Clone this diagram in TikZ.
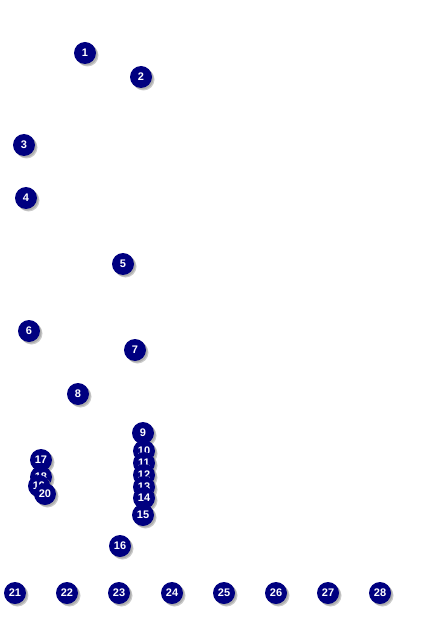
\documentclass[tikz,border=0pt]{standalone}
\usepackage{fontspec}
\setmainfont{Liberation Sans}
\definecolor{navyblue}{HTML}{000080}
\definecolor{shadowgray}{HTML}{8C8C8C}
\tikzset{
  num/.style={circle, fill=navyblue, minimum size=22pt, inner sep=0pt,
    text=white, font=\fontsize{11}{11}\selectfont\bfseries},
  numshadow/.style={circle, fill=shadowgray, opacity=0.45, minimum size=22pt, inner sep=0pt}
}
\newcommand{\numball}[3]{%
  \node[numshadow] (s#1) at (#2+2.5,#3+2.5) {};
  \node[numshadow] (t#1) at (#2+1.5,#3+1.5) {};
  \node[num] (n#1) at (#2,#3) {#1};
}
\begin{document}
\begin{tikzpicture}[x=1pt,y=-1pt]
\useasboundingbox (0,0) rectangle (424,636);
\fill[white] (0,0) rectangle (424,636);
\numball{1}{85}{53}
\numball{2}{141}{77}
\numball{3}{24}{145}
\numball{4}{26}{198}
\numball{5}{123}{264}
\numball{6}{29}{331}
\numball{7}{135}{350}
\numball{8}{78}{394}
\numball{9}{143}{433}
\numball{10}{144}{451}
\numball{11}{144}{463}
\numball{12}{144}{475}
\numball{13}{144}{487}
\numball{14}{144}{498}
\numball{15}{143}{515}
\numball{16}{120}{546}
\numball{17}{41}{460}
\numball{18}{41}{477}
\numball{19}{39}{486}
\numball{20}{45}{494}
\numball{21}{15}{593}
\numball{22}{67}{593}
\numball{23}{119}{593}
\numball{24}{172}{593}
\numball{25}{224}{593}
\numball{26}{276}{593}
\numball{27}{328}{593}
\numball{28}{380}{593}
\end{tikzpicture}
\end{document}
